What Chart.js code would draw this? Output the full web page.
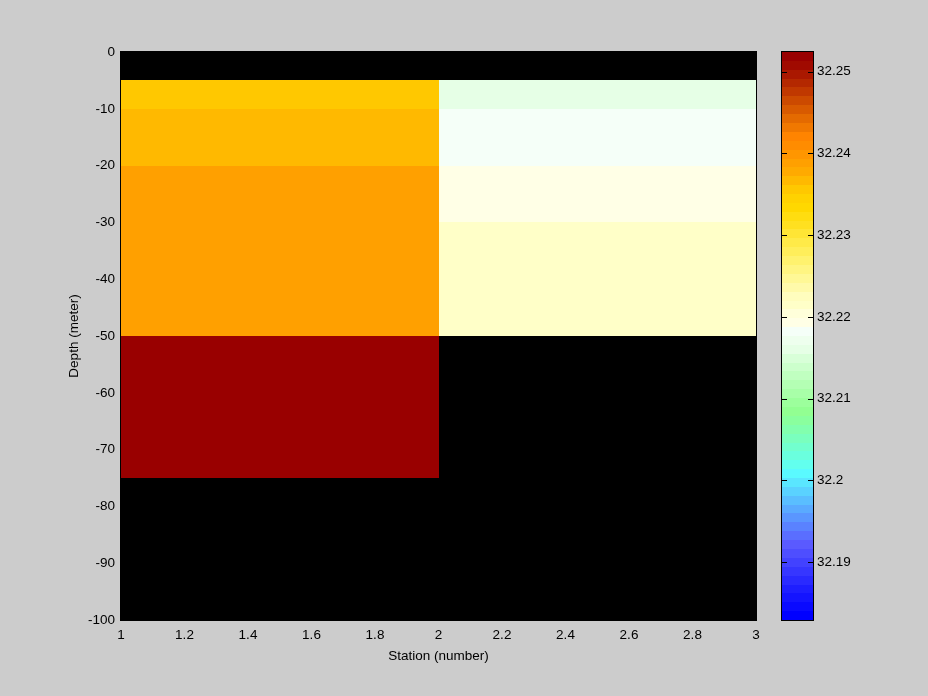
<!DOCTYPE html>
<html>
<head>
<meta charset="utf-8">
<script src="https://cdn.jsdelivr.net/npm/chart.js@4/dist/chart.umd.min.js"></script>
<style>
   html, body { margin: 0; padding: 0; background: #cccccc; }
   #wrap { position: relative; width: 928px; height: 696px; }
   canvas { position: absolute; left: 0; top: 0; }
</style>
</head>
<body>
<div id="wrap">
   <canvas id="section" width="928" height="696"></canvas>
   <canvas id="colorbar" width="928" height="696"></canvas>
</div>
<script>
// cell edges of the section (pcolor style)
const stationEdges = [ 1, 2, 3 ]
const depthEdges = [ 0, -5, -10, -20, -30, -50, -75, -100 ]

// salinity per station interval, from the surface down; null = no data (black)
const salinityStation1 = [ null, 32.2356, 32.2367, 32.2389, 32.2389, 32.2518, null ]
const salinityStation2 = [ null, 32.2160, 32.2182, 32.2193, 32.2215, null, null ]
const salinityColumns = [ salinityStation1, salinityStation2 ]

const colorRange = [ 32.1829, 32.2524 ]
const colorbarTicks = [ 32.19, 32.2, 32.21, 32.22, 32.23, 32.24, 32.25 ]

// 64 step colormap, listed from the top of the colorbar down
const colormapHighToLow = [
   '#990000', '#a00a00', '#aa1800', '#b42800', '#c03800', '#cc4a00', '#d85a00', '#e46a00',
   '#f07800', '#ff8400', '#ff8c00', '#ff9600', '#ffa000', '#ffaa00', '#ffb900', '#ffc800',
   '#ffd200', '#ffd800', '#ffdd10', '#ffe020', '#ffe535', '#ffea48', '#ffee5a', '#fff26e',
   '#fff582', '#fff896', '#fffaaa', '#fffdbe', '#ffffc8', '#ffffda', '#ffffe6', '#f5fff8',
   '#eeffee', '#e6ffe6', '#d8ffd8', '#ccffcc', '#c0ffc0', '#b4ffb4', '#a8ffa8', '#9cff9c',
   '#92ff92', '#8aff9e', '#82ffae', '#7affbe', '#72ffce', '#6affde', '#62ffee', '#5afaff',
   '#5ae6ff', '#5ad2ff', '#5abeff', '#5aaaff', '#5a96ff', '#5a82ff', '#5a6eff', '#5a5aff',
   '#4e4eff', '#4242ff', '#3636ff', '#2a2aff', '#1e1eff', '#1414ff', '#0a0aff', '#0000ff',
]

const font = { family: 'Liberation Sans', size: 13.5 }
const steps = colormapHighToLow.length

const colorFor = ( v ) => {
   const [ lo, hi ] = colorRange
   let j = Math.floor( ( v - lo ) / ( hi - lo ) * steps )
   j = Math.max( 0, Math.min( steps - 1, j ) )
   return colormapHighToLow[ steps - 1 - j ]
}

const sectionPlugin = {
   id: 'section_cells',
   beforeDatasetsDraw( chart ) {
      const { ctx, chartArea: a, scales: { x, y } } = chart
      ctx.save()
      ctx.fillStyle = '#000000'
      ctx.fillRect( a.left, a.top, a.right - a.left, a.bottom - a.top )

      salinityColumns.forEach( ( col, c ) => {
         const x0 = Math.round( x.getPixelForValue( stationEdges[ c ] ) )
         const x1 = Math.round( x.getPixelForValue( stationEdges[ c + 1 ] ) )
         col.forEach( ( v, r ) => {
            if ( v === null ) {
               return
            }
            const y0 = Math.round( y.getPixelForValue( depthEdges[ r ] ) )
            const y1 = Math.round( y.getPixelForValue( depthEdges[ r + 1 ] ) )
            ctx.fillStyle = colorFor( v )
            ctx.fillRect( x0, y0, x1 - x0, y1 - y0 )
         } )
      } )
      ctx.restore()
   },
   afterDraw( chart ) {
      const { ctx, chartArea: a } = chart
      ctx.save()
      ctx.strokeStyle = '#000000'
      ctx.lineWidth = 1
      ctx.strokeRect( a.left - 0.5, a.top - 0.5, a.right - a.left + 1, a.bottom - a.top + 1 )
      ctx.restore()
   },
}

const colorbarPlugin = {
   id: 'colorbar_bands',
   beforeDatasetsDraw( chart ) {
      const { ctx, chartArea: a, scales: { y } } = chart
      const [ lo, hi ] = colorRange
      const d = ( hi - lo ) / steps
      ctx.save()
      for ( let j = 0; j < steps; j++ ) {
         const yBottom = Math.round( y.getPixelForValue( lo + j * d ) )
         const yTop = Math.round( y.getPixelForValue( lo + ( j + 1 ) * d ) )
         ctx.fillStyle = colormapHighToLow[ steps - 1 - j ]
         ctx.fillRect( a.left, yTop, a.right - a.left, yBottom - yTop )
      }

      ctx.strokeStyle = '#000000'
      ctx.lineWidth = 1
      ctx.strokeRect( a.left - 0.5, a.top - 0.5, a.right - a.left + 1, a.bottom - a.top + 1 )

      // tick marks point inward from both edges
      ctx.beginPath()
      colorbarTicks.forEach( ( t ) => {
         const py = Math.round( y.getPixelForValue( t ) ) + 0.5
         ctx.moveTo( a.left, py )
         ctx.lineTo( a.left + 5, py )
         ctx.moveTo( a.right - 5, py )
         ctx.lineTo( a.right, py )
      } )
      ctx.stroke()
      ctx.restore()
   },
}

new Chart( document.getElementById( 'section' ), {
   type: 'scatter',
   data: { datasets: [ { data: [] } ] },
   plugins: [ sectionPlugin ],
   options: {
      responsive: false,
      animation: false,
      devicePixelRatio: 1,
      layout: { padding: { left: 0, top: 52, right: 172, bottom: 0 } },
      plugins: { legend: { display: false }, tooltip: { enabled: false } },
      scales: {
         x: {
            type: 'linear',
            min: stationEdges[ 0 ],
            max: stationEdges[ stationEdges.length - 1 ],
            afterFit: ( s ) => { s.height = 76 },
            grid: { display: false, drawTicks: false },
            border: { display: false },
            ticks: {
               stepSize: 0.2,
               color: '#000000',
               font,
               padding: 7,
               maxRotation: 0,
               callback: ( v ) => String( Math.round( v * 10 ) / 10 ),
            },
            title: {
               display: true,
               text: 'Station (number)',
               color: '#000000',
               font,
               padding: { top: 0, bottom: 32 },
            },
         },
         y: {
            type: 'linear',
            min: depthEdges[ depthEdges.length - 1 ],
            max: depthEdges[ 0 ],
            afterFit: ( s ) => { s.width = 121 },
            grid: { display: false, drawTicks: false },
            border: { display: false },
            ticks: {
               stepSize: 10,
               color: '#000000',
               font,
               padding: 6,
               callback: ( v ) => String( v ),
            },
            title: {
               display: true,
               text: 'Depth (meter)',
               color: '#000000',
               font,
               padding: { top: 66, bottom: 0 },
            },
         },
      },
   },
} )

new Chart( document.getElementById( 'colorbar' ), {
   type: 'scatter',
   data: { datasets: [ { data: [] } ] },
   plugins: [ colorbarPlugin ],
   options: {
      responsive: false,
      animation: false,
      devicePixelRatio: 1,
      layout: { padding: { left: 782, top: 52, right: 0, bottom: 76 } },
      plugins: { legend: { display: false }, tooltip: { enabled: false } },
      scales: {
         x: { type: 'linear', display: false, min: 0, max: 1 },
         y: {
            type: 'linear',
            position: 'right',
            min: colorRange[ 0 ],
            max: colorRange[ 1 ],
            afterFit: ( s ) => { s.width = 115 },
            afterBuildTicks: ( s ) => { s.ticks = colorbarTicks.map( ( value ) => ( { value } ) ) },
            grid: { display: false, drawTicks: false },
            border: { display: false },
            ticks: {
               color: '#000000',
               font,
               padding: 4,
               callback: ( v ) => String( v ),
            },
         },
      },
   },
} )
</script>
</body>
</html>
